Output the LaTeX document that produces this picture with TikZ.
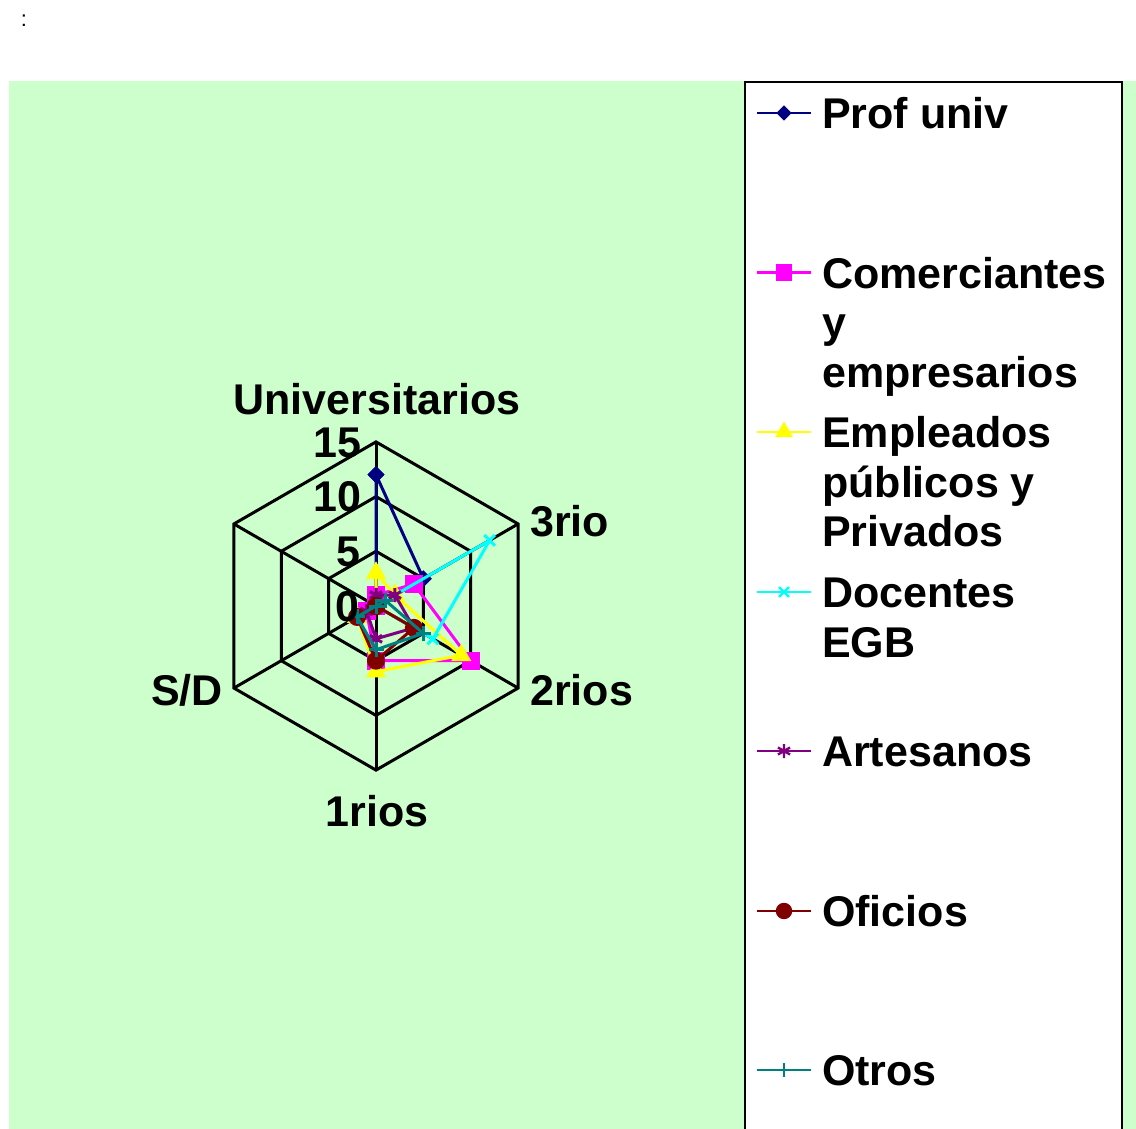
\documentclass[tikz,border=0pt]{standalone}
\usepackage{fontspec}
\setmainfont{Liberation Sans}
\usetikzlibrary{plotmarks}
\definecolor{fondo}{RGB}{204,255,204}
\definecolor{profuniv}{RGB}{0,0,128}
\definecolor{comerc}{RGB}{255,0,255}
\definecolor{emple}{RGB}{255,255,0}
\definecolor{docen}{RGB}{0,255,255}
\definecolor{artes}{RGB}{128,0,128}
\definecolor{ofic}{RGB}{128,0,0}
\definecolor{otros}{RGB}{0,128,128}

\begin{document}
\begin{tikzpicture}[x=1pt,y=-1pt,
  rotulo/.style={font=\fontsize{43}{49.5}\selectfont\bfseries, inner sep=0pt},
  serie/.style={line width=3pt, mark size=7.5pt},
  ley/.style={line width=2.4pt, mark size=7pt, mark indices={2}},
  rombo/.style={mark=square*, every mark/.append style={rotate=45, scale=0.6}},
  tri/.style={mark=triangle*, every mark/.append style={scale=1.15}}]
  \useasboundingbox (0,0) rectangle (1136,1129);
  \fill[fondo] (9,81) rectangle (1136,1129);
  \node[font=\fontsize{22}{26}\selectfont, anchor=base] (dospuntos) at (24,27) {:};

  % radar
  \begin{scope}[shift={(376,606)}, x=10.94pt, y=10.94pt]
    \foreach \r in {5,10,15}
      \draw[line width=3pt] (90:\r) -- (30:\r) -- (-30:\r) -- (-90:\r) -- (-150:\r) -- (150:\r) -- cycle;
    \foreach \a in {90,30,-30,-90,-150,150}
      \draw[line width=3pt] (0,0) -- (\a:15);

    \draw[serie, profuniv, rombo] plot coordinates {(90:12) (30:5) (-30:0) (-90:0) (-150:0) (150:0) (90:12)};
    \draw[serie, comerc, mark=square*] plot coordinates {(90:1) (30:4) (-30:10) (-90:5) (-150:1) (150:0) (90:1)};
    \draw[serie, emple, tri] plot coordinates {(90:3) (30:2) (-30:9) (-90:6) (-150:2) (150:0) (90:3)};
    \draw[serie, docen, mark=x, mark size=7.5pt] plot coordinates {(90:0) (30:12) (-30:6) (-90:0) (-150:0) (150:0) (90:0)};
    \draw[serie, artes, mark=asterisk, mark size=7pt] plot coordinates {(90:1) (30:2) (-30:4) (-90:3) (-150:1) (150:0) (90:1)};
    \draw[serie, ofic, mark=*] plot coordinates {(90:0) (30:0) (-30:4) (-90:5) (-150:2) (150:0) (90:0)};
    \draw[serie, otros, mark=+, mark size=7.5pt] plot coordinates {(90:0) (30:1) (-30:5) (-90:4) (-150:2) (150:0) (90:0)};
  \end{scope}

  \node[rotulo, anchor=base] (univ) at (377,414) {Universitarios};
  \node[rotulo, anchor=base west] (tres) at (530,536) {3rio};
  \node[rotulo, anchor=base west] (dos) at (530,705) {2rios};
  \node[rotulo, anchor=base] (uno) at (377,826) {1rios};
  \node[rotulo, anchor=base east] (sd) at (223,705) {S/D};

  \node[rotulo, anchor=base east] (t15) at (362,457) {15};
  \node[rotulo, anchor=base east] (t10) at (362,511.7) {10};
  \node[rotulo, anchor=base east] (t5) at (361,566.4) {5};
  \node[rotulo, anchor=base east] (t0) at (360,621) {0};

  % leyenda
  \draw[line width=2.5pt, fill=white] (745,82) rectangle (1122,1145);

  \draw[ley, profuniv, rombo] plot coordinates {(757,113) (784,113) (811,113)};
  \draw[ley, comerc, mark=square*] plot coordinates {(757,272.5) (784,272.5) (811,272.5)};
  \draw[ley, emple, tri] plot coordinates {(757,432) (784,432) (811,432)};
  \draw[ley, docen, mark=x] plot coordinates {(757,592) (784,592) (811,592)};
  \draw[ley, artes, mark=asterisk] plot coordinates {(757,751) (784,751) (811,751)};
  \draw[ley, ofic, mark=*] plot coordinates {(757,911) (784,911) (811,911)};
  \draw[ley, otros, mark=+] plot coordinates {(757,1070) (784,1070) (811,1070)};

  \node[rotulo, anchor=base west] (l1) at (822,128.5) {Prof univ};
  \node[rotulo, anchor=base west] (l2a) at (822,288) {Comerciantes};
  \node[rotulo, anchor=base west] (l2b) at (822,337.5) {y};
  \node[rotulo, anchor=base west] (l2c) at (822,387) {empresarios};
  \node[rotulo, anchor=base west] (l3a) at (822,447.5) {Empleados};
  \node[rotulo, anchor=base west] (l3b) at (822,497) {públicos y};
  \node[rotulo, anchor=base west] (l3c) at (822,546.5) {Privados};
  \node[rotulo, anchor=base west] (l4a) at (822,607.5) {Docentes};
  \node[rotulo, anchor=base west] (l4b) at (822,657) {EGB};
  \node[rotulo, anchor=base west] (l5) at (822,766.5) {Artesanos};
  \node[rotulo, anchor=base west] (l6) at (822,926.5) {Oficios};
  \node[rotulo, anchor=base west] (l7) at (822,1085.5) {Otros};
\end{tikzpicture}
\end{document}
